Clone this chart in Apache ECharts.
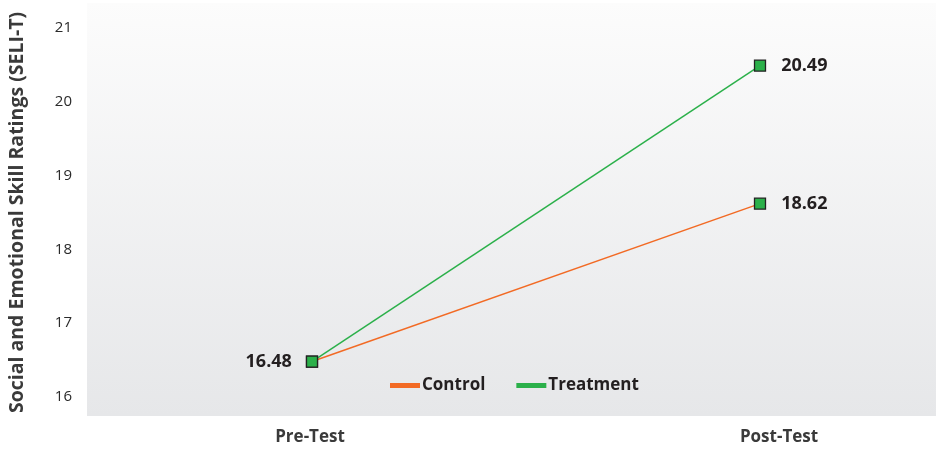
<!DOCTYPE html>
<html>
<head>
<meta charset="utf-8">
<script src="https://cdn.jsdelivr.net/npm/echarts@6/dist/echarts.min.js"></script>
<style>html,body{margin:0;padding:0;background:#fff}#c{width:936px;height:450px}</style>
</head>
<body>
<div id="c"></div>
<script>
const categories = ['Pre-Test', 'Post-Test'];
const controlValues = [16.48, 18.62];
const treatmentValues = [16.48, 20.49];
const yTicks = [16, 17, 18, 19, 20, 21];
const seriesNames = ['Control', 'Treatment'];
const yAxisTitle = 'Social and Emotional Skill Ratings (SELI-T)';

const FONT = '"Open Sans", "Noto Sans", sans-serif';
const ORANGE = '#f26a24';
const GREEN = '#2bb04a';
const labelStyle = { fontFamily: FONT, fontWeight: 'bold', fontSize: 18, color: '#231f20' };

function buildData(values, labelPositions) {
  return values.map((v, i) => ({
    value: v,
    label: labelPositions[i]
      ? Object.assign({ show: true, position: labelPositions[i], distance: labelPositions[i] === 'left' ? 14 : 15 }, labelStyle)
      : { show: false }
  }));
}

const chart = echarts.init(document.getElementById('c'), null, { renderer: 'canvas' });
chart.setOption({
  animation: false,
  backgroundColor: '#ffffff',
  graphic: [{
    type: 'rect',
    left: 87, top: 3, z: -10,
    shape: { width: 849, height: 413 },
    style: {
      fill: new echarts.graphic.LinearGradient(0, 0, 0, 1, [
        { offset: 0, color: '#fcfcfc' },
        { offset: 1, color: '#e6e7e9' }
      ])
    }
  }],
  grid: { left: 312, right: 176, top: 28, bottom: 53, containLabel: false },
  legend: {
    left: 390, top: 377, padding: 0,
    icon: 'rect', itemWidth: 30, itemHeight: 5, itemGap: 31,
    textStyle: { fontFamily: FONT, fontWeight: 'bold', fontSize: 17, color: '#231f20', padding: [0, 0, 0, -3] },
    data: [
      { name: seriesNames[0], itemStyle: { color: ORANGE, borderWidth: 0 } },
      { name: seriesNames[1], itemStyle: { color: GREEN, borderWidth: 0 } }
    ]
  },
  xAxis: {
    type: 'category', boundaryGap: false, data: categories,
    axisLine: { show: false }, axisTick: { show: false }, splitLine: { show: false },
    axisLabel: {
      margin: 32, fontFamily: FONT, fontWeight: 'bold', fontSize: 17, color: '#3a3a3a',
      formatter: (v, i) => i === 0 ? '{a|' + v + '}' : '{b|' + v + '}',
      rich: {
        a: { fontFamily: FONT, fontWeight: 'bold', fontSize: 17, color: '#3a3a3a', padding: [0, 4, 0, 0] },
        b: { fontFamily: FONT, fontWeight: 'bold', fontSize: 17, color: '#3a3a3a', padding: [0, 0, 0, 38] }
      }
    }
  },
  yAxis: {
    type: 'value', min: yTicks[0], max: yTicks[yTicks.length - 1], interval: 1,
    offset: 225,
    name: yAxisTitle, nameLocation: 'middle', nameGap: 60, nameRotate: 90,
    nameTextStyle: { fontFamily: FONT, fontWeight: 'bold', fontSize: 19.5, color: '#3a3a3a' },
    axisLine: { show: false }, axisTick: { show: false }, splitLine: { show: false },
    axisLabel: { margin: 15, fontFamily: FONT, fontSize: 15, fontWeight: 500, color: '#2a2a2a' }
  },
  series: [
    {
      name: seriesNames[0], type: 'line',
      data: buildData(controlValues, [null, 'right']),
      lineStyle: { color: ORANGE, width: 1.5 },
      itemStyle: { color: GREEN, borderColor: '#222', borderWidth: 1.3 },
      symbol: 'rect', symbolSize: 11, showAllSymbol: true, z: 2
    },
    {
      name: seriesNames[1], type: 'line',
      data: buildData(treatmentValues, ['left', 'right']),
      lineStyle: { color: GREEN, width: 1.5 },
      itemStyle: { color: GREEN, borderColor: '#222', borderWidth: 1.3 },
      symbol: 'rect', symbolSize: 11, showAllSymbol: true, z: 3
    }
  ]
});
</script>
</body>
</html>
